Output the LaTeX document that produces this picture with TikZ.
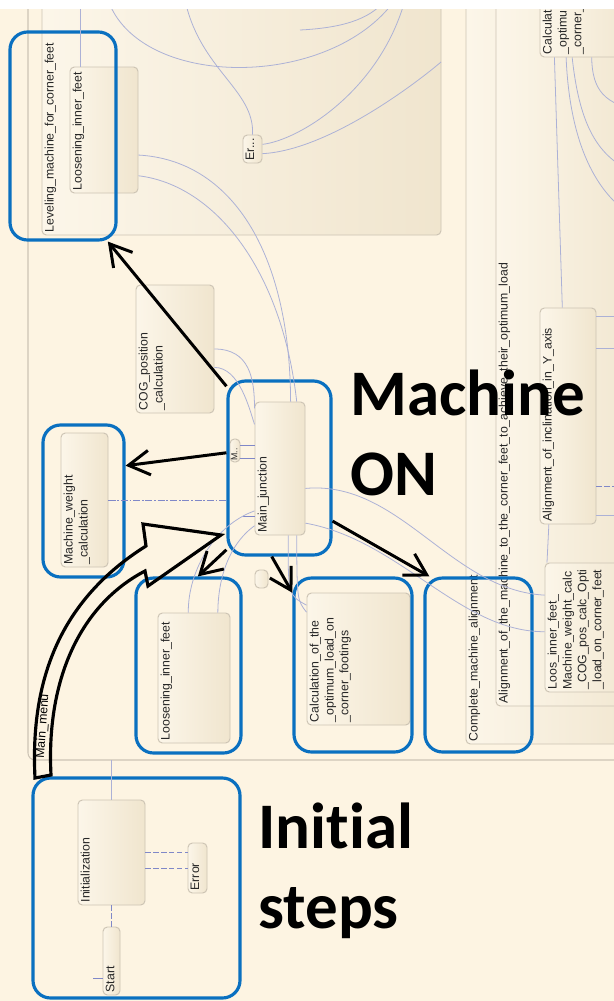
\documentclass[tikz,border=0pt]{standalone}
\usepackage{fontspec}
\setmainfont{Liberation Sans}
\newfontfamily\bigfont[Ligatures={NoCommon,NoContextual}]{Carlito}
\usetikzlibrary{fit,arrows.meta}

\definecolor{bgcream}{RGB}{253,244,226}
\definecolor{stleft}{RGB}{252,246,233}
\definecolor{stright}{RGB}{240,229,206}
\definecolor{stline}{RGB}{205,196,180}
\definecolor{trline}{RGB}{172,177,214}
\definecolor{dashblue}{RGB}{128,136,200}
\definecolor{hlblue}{RGB}{10,112,192}

\begin{document}
\begin{tikzpicture}
    [   x=0.02cm, y=-0.02cm,
        state/.style={draw=stline,line width=0.55pt,rounded corners=2.5pt,left color=stleft,right color=stright,inner sep=0pt,fit={#1}},
        lbl/.style={rotate=90,anchor=north west,inner sep=1.6pt,align=left,text=black!85,font=\fontsize{7}{8.5}\selectfont},
        trans/.style={draw=trline,line width=0.45pt},
        dashline/.style={draw=dashblue,line width=0.5pt,dash pattern=on 3pt off 1.5pt},
        hl/.style={draw=hlblue,line width=1.8pt,rounded corners=10pt,inner sep=0pt,fit={#1}},
        bigarr/.style={line width=1.7pt,-{Straight Barb[length=12pt,width=14pt]}},
        hollow/.style={draw=black,line width=1.8pt,line join=miter},
        bigtext/.style={font=\bigfont\bfseries\fontsize{37}{45}\selectfont,align=left,anchor=north west,inner sep=0pt},
    ]
    \useasboundingbox (0,0) rectangle (614,1001);
    \clip (0,0) rectangle (614,1001);
    \fill[bgcream] (0,0) rectangle (614,1001);

    % chart regions
    \draw[stline,line width=0.6pt,rounded corners=4pt] (28,0) -- (28,760) -- (640,760);
    \node[state={(42,-20) (441,235)}] (lev) {};
    \node[lbl] at (lev.south west) {Leveling\_machine\_for\_corner\_feet};
    \node[state={(466,-20) (650,744)}] (compl) {};
    \node[lbl] at (compl.south west) {Complete\_machine\_alignment};
    \node[state={(496,-20) (650,706)}] (alimach) {};
    \node[lbl] at (alimach.south west) {Alignment\_of\_the\_machine\_to\_the\_corner\_feet\_to\_achieve\_their\_optimum\_load};

    % states
    \node[state={(70,67) (138,193)}] (loosA) {};
    \node[lbl] at (loosA.south west) {Loosening\_inner\_feet};
    \node[state={(243,135) (262,163)}] (err1) {};
    \node[lbl] at (err1.south west) {Er...};
    \node[state={(540,-40) (640,57)}] (calctop) {};
    \node[lbl] at (calctop.south west) {Calculat\\\_optimu\\\_corner\_};
    \node[state={(540,308) (596,524)}] (alincl) {};
    \node[lbl] at (alincl.south west) {Alignment\_of\_inclination\_in\_Y\_axis};
    \node[state={(545,563) (640,692)}] (loos2) {};
    \node[lbl] at (loos2.south west) {Loos\_inner\_feet\_\\Machine\_weight\_calc\\\_COG\_pos\_calc\_Opti\\\_load\_on\_corner\_feet};
    \node[state={(136,285) (214,413)}] (cog) {};
    \node[lbl] at (cog.south west) {COG\_position\\\_calculation};
    \node[state={(255,402) (305,535)}] (mj) {};
    \node[lbl] at (mj.south west) {Main\_junction};
    \node[state={(230,439) (240,462)}] (mbox) {};
    \node[lbl,font=\fontsize{5}{6}\selectfont,inner sep=0.8pt] at (mbox.south west) {M..};
    \node[state={(61,433) (108,567)}] (mw) {};
    \node[lbl] at (mw.south west) {Machine\_weight\\\_calculation};
    \node[state={(255,570) (268,588)}] (sbox) {};
    \node[state={(158,613) (230,743)}] (loosB) {};
    \node[lbl] at (loosB.south west) {Loosening\_inner\_feet};
    \node[state={(307,593) (410,725)}] (calc) {};
    \node[lbl] at (calc.south west) {Calculation\_of\_the\\\_optimum\_load\_on\\\_corner\_footings};
    \node[state={(78,800) (145,905)}] (init) {};
    \node[lbl] at (init.south west) {Initialization};
    \node[state={(188,843) (207,893)}] (err2) {};
    \node[lbl] at (err2.south west) {Error};
    \node[state={(103,927) (120,995)}] (start) {};
    \node[lbl] at (start.south west) {Start};

    % highlights
    \node[hl={(10,32) (116,240)}] (hlA) {};
    \node[hl={(228,381) (331,555)}] (hlB) {};
    \node[hl={(43,425) (124,577)}] (hlC) {};
    \node[hl={(136,578) (241,753)}] (hlD) {};
    \node[hl={(294,578) (412,752)}] (hlE) {};
    \node[hl={(425,578) (532,752)}] (hlF) {};
    \node[hl={(33,778) (240,998)}] (hlG) {};

    % transitions
    \draw[trans] (loosA.north west) ++(11,0) -- +(0,-70);
    \draw[trans] (108,0) .. controls (140,90) and (330,90) .. (395,0);
    \draw[trans] (300,30) .. controls (340,28) and (370,20) .. (385,0);
    \draw[trans] (185,0) .. controls (200,70) and (255,90) .. (err1.north);
    \draw[trans] (err1.25) .. controls (300,140) and (380,90) .. (405,0);
    \draw[trans] (err1.-25) .. controls (330,150) and (420,80) .. (441,62);
    \draw[trans] (loosA.-36) .. controls (230,160) and (290,250) .. (mj.81);
    \draw[trans] (loosA.-53) .. controls (215,185) and (282,270) .. (mj.76);
    \draw[trans] (cog.east) .. controls +(35,0) and +(0,-30) .. (mj.113);
    \draw[trans] (cog.-25) .. controls +(25,0) and +(-5,-15) .. (mj.120);
    \draw[trans,draw=dashblue] (mbox.42) -- (mbox.42 -| mj.west);
    \draw[trans,draw=dashblue] (mbox.-56) -- (mbox.-56 -| mj.west);
    \draw[dashline,dash pattern=on 4pt off 1pt on 1pt off 1pt] (mw.east) -- (mw.east -| hlB.west);
    \draw[trans,draw=dashblue] (mj.-118) -- +(-12,0);
    \draw[trans] (mj.-121) .. controls (215,525) and (188,570) .. (loosB.95);
    \draw[trans] (mj.-114) .. controls (228,545) and (218,580) .. (loosB.70);
    \draw[trans] (mj.-83) .. controls (288,595) .. (calc.134);
    \draw[trans] (mj.-76) .. controls (297,600) .. (calc.138);
    \draw[trans] (mj.-38) .. controls (400,480) and (450,590) .. (loos2.146);
    \draw[trans] (mj.-65) .. controls (400,540) and (460,632) .. (loos2.185);
    \draw[trans] (calctop.-126) -- (alincl.93);
    \draw[trans] (calctop.-116) .. controls (570,150) and (600,200) .. (640,220);
    \draw[trans] (calctop.-110) .. controls (580,130) and (600,160) .. (640,175);
    \draw[trans] (calctop.-88) .. controls (592,90) and (605,105) .. (640,110);
    \draw[trans] (alincl.74) -- +(30,0);
    \draw[trans] (alincl.67) -- +(30,0);
    \draw[dashline] (alincl.-68) -- +(30,0);
    \draw[trans] (alincl.-74) -- +(30,0);
    \draw[trans] (alincl.-100) -- (loos2.125);
    \draw[trans] (init.north) -- +(0,-40);
    \draw[dashline] (err2.122 -| init.east) -- (err2.122);
    \draw[dashline] (err2.west -| init.east) -- (err2.west);
    \draw[dashline] (init.south) -- (start.north);
    \draw[trans,draw=dashblue] (start.-117) -- +(-10,0);
    \fill[white] (0,0) rectangle (614,9);

    % annotation arrows
    \draw[bigarr] (hlB.123) -- (hlA.-67);
    \draw[bigarr] (hlB.164) -- (hlC.40);
    \draw[bigarr] (hlB.-123) -- (hlD.84);
    \draw[bigarr] (hlB.-95) -- (hlE.130);
    \draw[bigarr] (hlB.-45) -- (hlF.119);

    \draw[hollow] (35,778) .. controls (30,680) and (60,600) .. (146,546) -- (143,524) -- (221,535)
        -- (148,586) -- (145,571) .. controls (80,605) and (46,680) .. (51,775) -- cycle;
    \node[rotate=86,inner sep=0pt,font=\fontsize{7}{8}\selectfont] (mmenu) at (43,726) {Main\_menu};

    \node[bigtext] (mon) at (350,370) {Machine\\ON};
    \node[bigtext] (ist) at (258,803) {Initial\\steps};
\end{tikzpicture}
\end{document}
